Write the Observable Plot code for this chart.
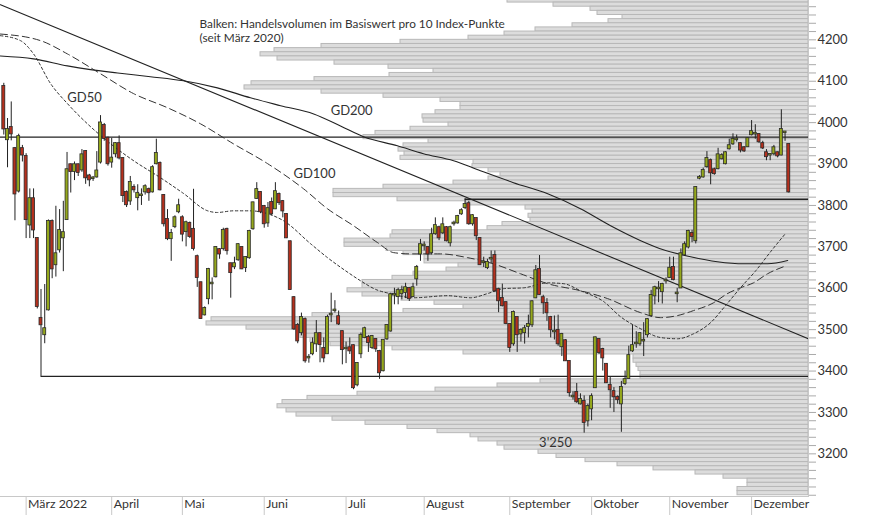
<!DOCTYPE html>
<html><head><meta charset="utf-8">
<script src="https://cdn.jsdelivr.net/npm/d3@7"></script>
<script src="https://cdn.jsdelivr.net/npm/@observablehq/plot@0.6"></script>
<style>
body{margin:0;background:#fff;}
#chart{position:relative;width:874px;height:515px;}
#chart svg{position:absolute;left:0;top:0;}
</style></head><body><div id="chart"></div>
<script>
// ---- data (Euro Stoxx 50, daily, 21 Feb – 15 Dec 2022; index = trading day) ----
const opens = [4087,3959,3988,3937,3835,3937,3918,3753,3816,3720,
3527,3488,3548,3761,3657,3693,3722,3766,3898,3882,
3898,3886,3930,3871,3865,3869,3905,3993,3962,3905,
3925,3949,3913,3831,3811,3843,3819,3824,3833,3838,
3833,3901,3901,3824,3766,3720,3749,3785,3770,3737,
3756,3742,3676,3613,3536,3575,3611,3628,3693,3696,
3742,3659,3652,3669,3698,3650,3674,3744,3817,3831,
3797,3758,3807,3792,3826,3809,3778,3712,3577,3510,
3493,3524,3432,3442,3466,3490,3454,3442,3536,3546,
3531,3495,3454,3456,3461,3367,3442,3481,3481,3457,
3476,3447,3401,3478,3497,3584,3580,3587,3590,3599,
3580,3623,3683,3703,3698,3686,3732,3746,3734,3746,
3710,3756,3758,3780,3795,3804,3756,3768,3720,3662,
3650,3671,3679,3597,3575,3565,3512,3466,3529,3490,
3493,3508,3512,3577,3645,3577,3563,3529,3495,3498,
3459,3473,3423,3338,3348,3321,3326,3280,3309,3360,
3476,3452,3416,3365,3350,3336,3321,3370,3382,3449,
3466,3466,3473,3488,3534,3582,3599,3592,3618,3626,
3650,3587,3601,3681,3700,3732,3715,3866,3869,3894,
3908,3886,3889,3913,3901,3937,3949,3959,3949,3939,
3942,3971,3973,3971,3949,3927,3922,3925,3927,3922,
3976,3947];
const closes = [3985,3983,3973,3828,3966,3922,3766,3816,3741,3556,
3512,3502,3761,3647,3683,3739,3734,3886,3882,3898,
3880,3922,3867,3862,3866,3883,3999,3962,3901,3914,
3949,3915,3824,3802,3855,3838,3829,3825,3845,3831,
3891,3925,3838,3756,3720,3732,3770,3799,3731,3758,
3725,3696,3626,3527,3551,3645,3612,3698,3683,3739,
3691,3638,3659,3705,3647,3674,3737,3806,3838,3785,
3756,3792,3780,3833,3807,3787,3722,3597,3502,3473,
3529,3425,3433,3466,3490,3464,3432,3529,3537,3547,
3514,3452,3455,3449,3360,3418,3486,3502,3469,3483,
3454,3396,3474,3510,3584,3585,3594,3594,3601,3575,
3601,3650,3705,3704,3683,3729,3751,3722,3753,3715,
3746,3757,3773,3787,3802,3756,3775,3727,3657,3663,
3662,3672,3594,3570,3558,3515,3457,3541,3488,3498,
3502,3512,3567,3642,3585,3565,3541,3500,3496,3466,
3488,3425,3348,3339,3326,3331,3276,3314,3338,3480,
3445,3432,3372,3355,3338,3331,3360,3379,3437,3461,
3467,3490,3474,3524,3582,3601,3600,3609,3619,3648,
3621,3588,3683,3705,3737,3725,3843,3867,3884,3913,
3879,3877,3922,3920,3927,3944,3959,3960,3934,3932,
3961,3978,3974,3954,3939,3918,3923,3939,3920,3983,
3977,3833];
const highs = [4095,4010,4050,3940,3972,3945,3925,3840,3840,3722,
3597,3609,3765,3765,3798,3790,3810,3928,3900,3905,
3900,3935,3932,3875,3870,3930,4017,3998,3965,3962,
3952,3968,3915,3835,3870,3850,3850,3840,3850,3842,
3896,3960,3905,3826,3790,3742,3775,3815,3775,3762,
3760,3839,3680,3615,3555,3648,3625,3700,3696,3745,
3745,3660,3675,3708,3700,3676,3740,3808,3855,3833,
3800,3807,3818,3855,3830,3812,3780,3714,3580,3515,
3540,3528,3440,3480,3522,3492,3480,3535,3588,3570,
3545,3497,3470,3480,3463,3420,3492,3506,3486,3486,
3478,3450,3476,3512,3588,3600,3600,3605,3612,3602,
3612,3655,3718,3712,3700,3745,3770,3750,3770,3749,
3750,3762,3776,3792,3816,3810,3778,3770,3722,3675,
3670,3690,3690,3600,3610,3567,3514,3545,3531,3502,
3510,3535,3570,3655,3679,3583,3575,3532,3533,3535,
3491,3476,3425,3350,3370,3345,3340,3320,3345,3482,
3478,3455,3418,3385,3360,3340,3375,3400,3460,3510,
3495,3493,3517,3527,3595,3605,3616,3612,3625,3675,
3675,3600,3695,3712,3740,3740,3845,3872,3890,3930,
3912,3890,3938,3925,3930,3960,3973,3970,3952,3942,
3963,4005,3995,3973,3955,3935,3925,3945,3929,4031,
3978,3948];
const lows = [3970,3891,3956,3763,3830,3905,3720,3720,3720,3550,
3387,3466,3545,3623,3627,3685,3640,3764,3830,3860,
3870,3880,3851,3845,3858,3866,3900,3955,3895,3890,
3915,3910,3807,3795,3800,3830,3787,3800,3825,3810,
3830,3898,3835,3748,3715,3665,3744,3780,3712,3700,
3720,3690,3602,3525,3533,3560,3572,3625,3670,3690,
3680,3576,3645,3665,3645,3638,3670,3740,3815,3780,
3745,3747,3775,3790,3800,3770,3720,3595,3498,3466,
3485,3419,3419,3437,3445,3420,3420,3440,3517,3540,
3510,3415,3418,3440,3355,3362,3430,3478,3445,3452,
3445,3380,3398,3474,3494,3560,3560,3572,3575,3568,
3578,3605,3665,3690,3665,3680,3728,3715,3730,3712,
3700,3750,3755,3776,3790,3752,3750,3715,3655,3650,
3645,3660,3590,3541,3555,3512,3445,3460,3445,3470,
3465,3480,3505,3575,3583,3537,3520,3480,3475,3460,
3435,3423,3337,3330,3322,3318,3250,3265,3280,3358,
3440,3400,3370,3310,3300,3320,3252,3365,3380,3445,
3455,3460,3435,3480,3530,3560,3565,3562,3610,3624,
3618,3565,3600,3678,3695,3710,3707,3862,3866,3890,
3850,3873,3886,3910,3898,3934,3945,3953,3927,3928,
3940,3968,3960,3950,3935,3908,3908,3920,3915,3920,
3955,3830];

// month starts (trading-day index) and their labels
const monthTickDays = [6,29,48,70,92,113,136,158,179,201];
const monthLabels = ["März 2022","April","Mai","Juni","Juli","August","September","Oktober","November","Dezember"];

// volume profile: lower bound of each 10-point bin (top → bottom) and relative volume
const profileLevels = d3.range(4290, 3090, -10);
const profileVolumes = [301,255,218,211,186,200,236,273,304,340,
408,487,534,548,531,474,420,375,419,494,
557,564,487,425,368,348,348,373,386,385,
360,398,433,445,380,405,410,404,408,335,
336,320,308,320,355,425,475,475,411,343,
283,276,280,278,306,321,416,418,464,464,
422,405,384,384,350,362,395,416,446,446,
461,446,407,374,345,405,496,597,602,562,
508,508,498,478,416,345,175,175,172,170,
168,168,268,311,373,451,501,526,531,522,
512,476,443,401,371,338,330,311,304,270,
252,223,191,155,113,85,61,61,71,71];

// moving averages (read at sampled trading days)
const gd200Days = [-0.9,8,17.1,23.3,30.6,39.4,48.3,57.4,66.3,74.4,83.3,90.5,96.7,105.8,112.8,120.9,128.1,137,146.2,155,163.1,171.2,177.9,184.6,191.8,198.9,205.3,210.7];
const gd200Values = [4161,4154,4137,4128,4120,4111,4101,4084,4060,4041,4021,3992,3966,3944,3925,3908,3884,3855,3828,3792,3751,3715,3691,3676,3664,3659,3659,3667];
const gd100Days = [-0.9,9.9,17.1,26,34.9,44,52.9,61.7,70.9,80.6,87,94,100.5,104.8,109.3,117.4,124.6,131.6,138.9,146.2,155,162.3,171.2,176.5,181.1,185.4,190.8,194.5,198,201.5,205.3,209.6];
const gd100Values = [4214,4198,4166,4118,4070,4036,3997,3949,3901,3840,3792,3751,3710,3686,3683,3683,3674,3659,3635,3611,3594,3575,3541,3529,3534,3546,3565,3587,3601,3613,3635,3652];
const gd50Days = [-0.9,4.5,8,12.6,17.1,22.5,28.7,34.9,42.1,48.3,54.8,57.4,61.7,66.3,70.9,75.2,82.4,87,91.9,95.9,100,103.9,110.1,119.3,125.5,130,134.3,139.7,146.2,150.5,155,161.2,165.8,171.2,176.5,181.1,185.4,190,194,198,202.1,206.1,210.1];
const gd50Values = [4210,4198,4166,4094,4046,3997,3949,3908,3867,3829,3787,3783,3787,3787,3780,3763,3708,3674,3642,3618,3597,3587,3577,3582,3577,3587,3599,3601,3613,3611,3594,3568,3531,3502,3481,3478,3490,3517,3558,3601,3642,3688,3732];

// trend line and horizontal levels
const trendDays = [-0.887, 216.3];
const trendValues = [4285, 3478];
const levelValues = [3965, 3815, 3387];
const levelStartDays = [-0.887, 124, 10];

const yTickLabels = [3200,3300,3400,3500,3600,3700,3800,3900,4000,4100,4200];
const titleLines = ["Balken: Handelsvolumen im Basiswert pro 10 Index-Punkte", "(seit März 2020)"];

// ---- build ----
const yDomain = [3097, 4295];
const xDomain = [-0.887, 216.3];
const common = {width: 874, height: 515, marginLeft: 0, marginRight: 66, marginTop: 0, marginBottom: 19};
const FONT = "Lato, 'Open Sans', sans-serif";

const profile = profileLevels.map((lo, k) => ({lo, hi: lo + 10, vol: profileVolumes[k]}));
const candles = opens.map((o, i) => ({i, o, c: closes[i], h: highs[i], l: lows[i]}));
const toLine = (days, vals) => days.map((d, k) => ({day: d, value: vals[k]}));
const levels = levelValues.map((v, k) => ({value: v, from: levelStartDays[k]}));

const chart = document.getElementById("chart");

const p1 = Plot.plot({
  ...common,
  style: {background: "#fff"},
  x: {domain: [0, 808], reverse: true, axis: null},
  y: {domain: yDomain, axis: null},
  marks: [
    Plot.rect(profile, {x1: 0, x2: "vol", y1: "lo", y2: "hi", fill: "#dcdcdc", stroke: "#b8b8b8", strokeWidth: 1, clip: true})
  ]
});
chart.appendChild(p1);

const p2 = Plot.plot({
  ...common,
  style: {background: "transparent", fontFamily: FONT, color: "#333", overflow: "visible"},
  x: {domain: xDomain, axis: null},
  y: {domain: yDomain, axis: null},
  marks: [
    Plot.frame({anchor: "right", stroke: "#c8c8c8"}),
    Plot.frame({anchor: "bottom", stroke: "#c8c8c8"}),
    Plot.axisY(d3.range(3100, 4300, 20), {anchor: "right", tickSize: 7, stroke: "#aaa", tickFormat: () => ""}),
    Plot.axisY(yTickLabels, {anchor: "right", tickSize: 0, tickPadding: 9, fontSize: 13, tickFormat: d => String(d)}),
    Plot.axisX(monthTickDays, {anchor: "bottom", tickSize: 19, stroke: "#c8c8c8", tickFormat: () => ""}),
    Plot.axisX(monthTickDays, {anchor: "bottom", tickSize: 0, tickPadding: 3, fontSize: 12.3, textAnchor: "start", dx: 2,
      tickFormat: d => monthLabels[monthTickDays.indexOf(d)]}),
    Plot.line(toLine(trendDays, trendValues), {x: "day", y: "value", stroke: "#222", strokeWidth: 1.1, clip: true}),
    Plot.ruleY(levels, {y: "value", x1: "from", x2: xDomain[1], stroke: "#222", strokeWidth: 1.3}),
    Plot.line(toLine(gd200Days, gd200Values), {x: "day", y: "value", curve: "monotone-x", stroke: "#222", strokeWidth: 1.1}),
    Plot.line(toLine(gd100Days, gd100Values), {x: "day", y: "value", curve: "monotone-x", stroke: "#333", strokeWidth: 1, strokeDasharray: "7,4"}),
    Plot.line(toLine(gd50Days, gd50Values), {x: "day", y: "value", curve: "monotone-x", stroke: "#333", strokeWidth: 1, strokeDasharray: "2.5,2.5"}),
    Plot.ruleX(candles, {x: "i", y1: "l", y2: "h", stroke: "#222", strokeWidth: 1}),
    Plot.rect(candles, {x1: d => d.i - 0.4, x2: d => d.i + 0.4, y1: "o", y2: "c", insetTop: -0.6, insetBottom: -0.6,
      fill: d => d.c >= d.o ? "#95a81c" : "#b5301d", stroke: "#2a2a2a", strokeWidth: 0.8}),
    Plot.text([titleLines[0]], {frameAnchor: "top-left", dx: 199, dy: 19, text: d => d, textAnchor: "start", fontSize: 11.8, fill: "#333"}),
    Plot.text([titleLines[1]], {frameAnchor: "top-left", dx: 199, dy: 33, text: d => d, textAnchor: "start", fontSize: 11.8, fill: "#333"}),
    Plot.text(["GD50"], {x: 21.7, y: 4060, text: d => d, fontSize: 13, fill: "#333"}),
    Plot.text(["GD200"], {x: 93.5, y: 4029, text: d => d, fontSize: 13, fill: "#333"}),
    Plot.text(["GD100"], {x: 83.5, y: 3876, text: d => d, fontSize: 13, fill: "#333"}),
    Plot.text(["3'250"], {x: 148.3, y: 3227, text: d => d, fontSize: 13, fill: "#333"})
  ]
});
chart.appendChild(p2);
</script>
</body></html>
